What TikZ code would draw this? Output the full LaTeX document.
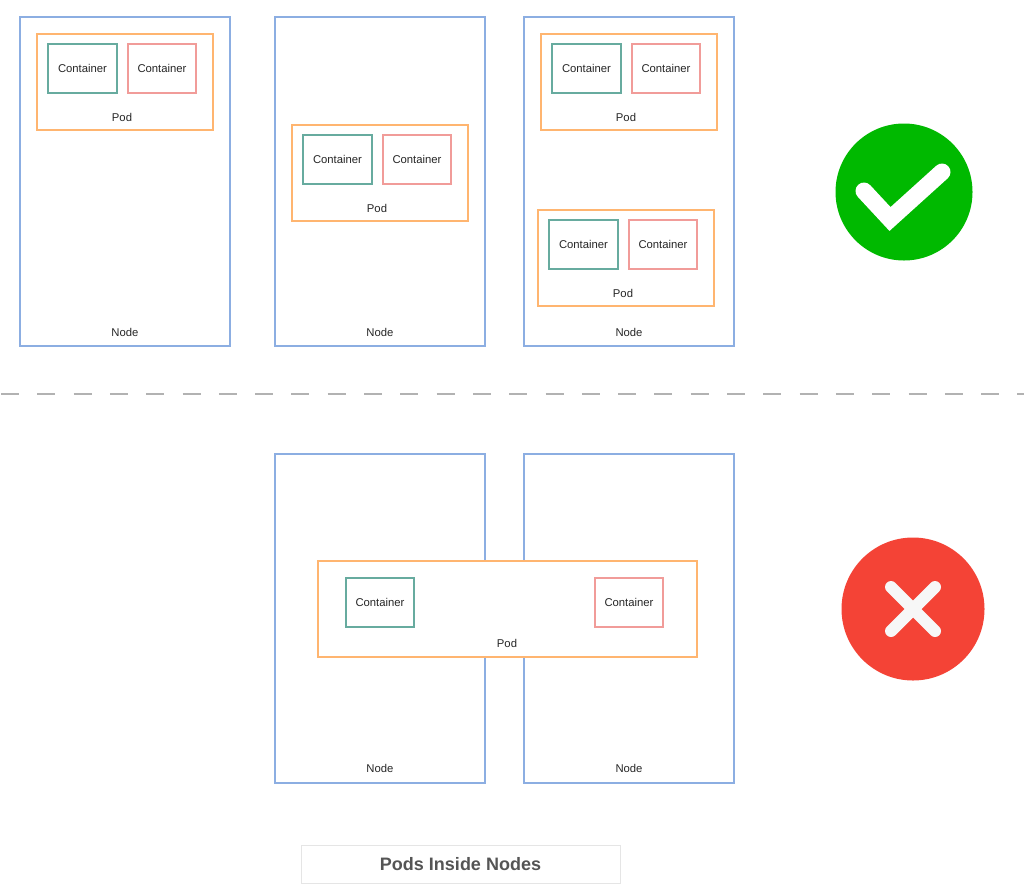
\documentclass[tikz,border=0pt]{standalone}
\usepackage{fontspec}
\setmainfont{Liberation Sans}
\usetikzlibrary{positioning}

\definecolor{nodeblue}{HTML}{8CAEE2}
\definecolor{podorange}{HTML}{FFB570}
\definecolor{contgreen}{HTML}{67AB9F}
\definecolor{contred}{HTML}{F19C99}
\definecolor{okgreen}{HTML}{00B900}
\definecolor{badred}{HTML}{F44336}
\definecolor{titlegray}{HTML}{555555}

\tikzset{
    nodebox/.style = {draw = nodeblue, line width = 1.8pt, outer sep = 0pt, minimum width = 210pt, minimum height = 329pt, anchor = north west},
    podbox/.style = {draw = podorange, fill = white, line width = 2pt, outer sep = 0pt, minimum width = 176pt, minimum height = 96pt, anchor = north west},
    contbox/.style = {line width = 2pt, fill = white, outer sep = 0pt, minimum width = 69pt, minimum height = 49pt, anchor = north west, font = \fontsize{11.3pt}{13pt}\selectfont, text = black!85},
    tag/.style = {font = \fontsize{11.3pt}{13pt}\selectfont, text = black!85, inner sep = 0pt},
}

\begin{document}
\begin{tikzpicture}[x=1pt, y=-1pt]
    \useasboundingbox (0, 0) rectangle (1024, 895);

    % top row
    \foreach \nm/\nx/\ny/\ly in {nodeA/20/17/332, nodeB/275/17/332, nodeC/524/17/332, nodeD/275/454/768, nodeE/524/454/768}{
        \node[nodebox] (\nm) at (\nx, \ny) {};
        \node[tag] (\nm label) at (\nx + 105, \ly) {Node};
    }

    % pods with two containers
    \foreach \nm/\nx/\ny in {podA/37/34, podB/292/125, podC/541/34, podD/538/210}{
        \node[podbox] (\nm) at (\nx, \ny) {};
        \node[tag] (\nm label) at (\nx + 85, \ny + 83) {Pod};
        \node[contbox, draw = contgreen] (\nm green) at (\nx + 11, \ny + 10) {Container};
        \node[contbox, draw = contred, minimum width = 68pt] (\nm red) at (\nx + 91, \ny + 10) {Container};
    }

    % divider
    \coordinate (divleft) at (1, 394);
    \coordinate (divright) at (1024, 394);
    \draw[line width = 1.7pt, color = black!30, dash pattern = on 18pt off 18.3pt] (divleft) -- (divright);

    % pod across two nodes
    \node[podbox, minimum width = 379pt] (podE) at (318, 561) {};
    \node[tag] (podE label) at (507, 643.5) {Pod};
    \node[contbox, draw = contgreen, minimum width = 68pt] (podE green) at (346, 578) {Container};
    \node[contbox, draw = contred, minimum width = 68pt] (podE red) at (595, 578) {Container};

    % tick
    \node[circle, fill = okgreen, minimum size = 137pt, inner sep = 0pt] (okmark) at (904, 192) {};
    \draw[white, line width = 17pt, line cap = round, line join = miter] (864, 191) -- (890, 219) -- (942, 172);

    % cross
    \node[circle, fill = badred, minimum size = 143pt, inner sep = 0pt] (badmark) at (913, 609) {};
    \draw[white!97!black, line width = 12pt, line cap = round] (891, 587) -- (935, 631);
    \draw[white!97!black, line width = 12pt, line cap = round] (935, 587) -- (891, 631);

    % caption
    \node[draw = black!10, line width = 1pt, minimum width = 319pt, minimum height = 38pt, text = titlegray, font = \fontsize{18pt}{20pt}\selectfont\bfseries] (caption) at (460.5, 864) {Pods Inside Nodes};
\end{tikzpicture}
\end{document}
